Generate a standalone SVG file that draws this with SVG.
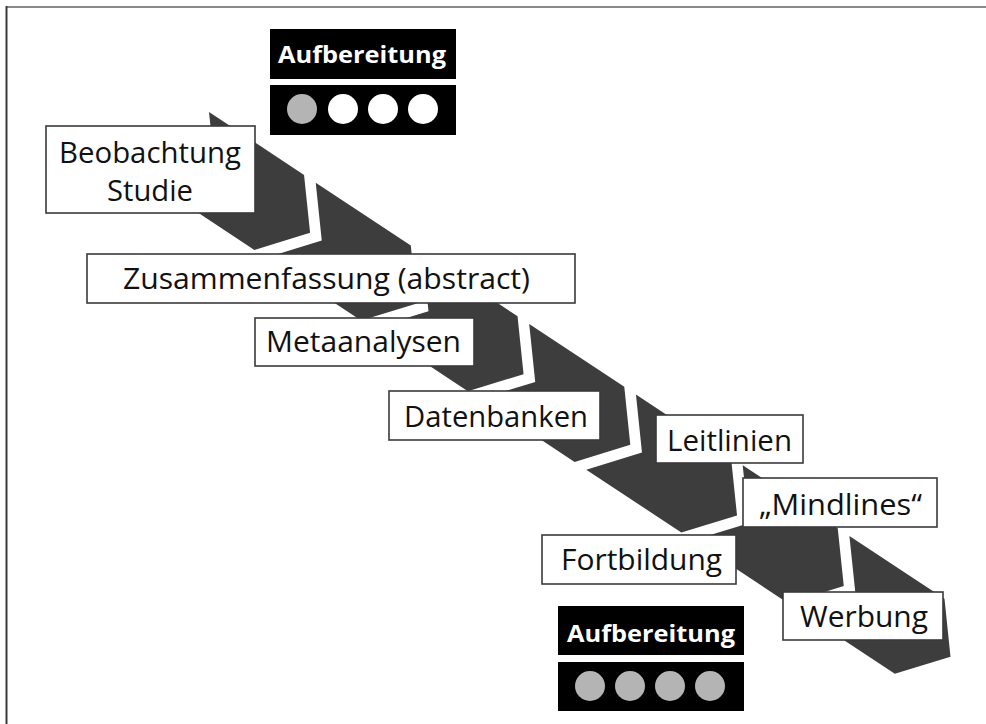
<svg xmlns="http://www.w3.org/2000/svg" xmlns:xlink="http://www.w3.org/1999/xlink" width="986" height="724" viewBox="0 0 986 724">
<defs>
<style>
.box{fill:#ffffff;stroke:#3a3a3a;stroke-width:1.6}
.lbl{font-family:"Open Sans","Noto Sans","Liberation Sans",sans-serif;font-size:29px;fill:#111111}
.hd{fill:#000000}
.hdt{font-family:"Open Sans","Noto Sans","Liberation Sans",sans-serif;font-size:24px;font-weight:bold;fill:#ffffff}
.chev{fill:#3d3d3d}
</style>
<polygon id="chev" class="chev" points="0,0 114,0 151,45 114,90 0,90 37,45"/>
</defs>
<rect x="0" y="0" width="986" height="724" fill="#ffffff"/>
<line x1="6" y1="7" x2="986" y2="7" stroke="#8a8a8a" stroke-width="2"/>
<line x1="6.5" y1="6" x2="6.5" y2="724" stroke="#3a3a3a" stroke-width="2"/>

<g id="band" transform="translate(209,112) rotate(33.5)">
<use xlink:href="#chev" x="0"/>
<use xlink:href="#chev" x="128"/>
<use xlink:href="#chev" x="256"/>
<use xlink:href="#chev" x="384"/>
<use xlink:href="#chev" x="512"/>
<use xlink:href="#chev" x="640"/>
<use xlink:href="#chev" x="768"/>
</g>

<g id="connectors"></g>

<g id="aufbereitung-top">
<rect class="hd" x="270" y="29" width="186" height="50"/>
<text class="hdt" x="278" y="63" textLength="168" lengthAdjust="spacingAndGlyphs">Aufbereitung</text>
<rect class="hd" x="270" y="85" width="186" height="50"/>
<circle cx="302" cy="109" r="15" fill="#b4b4b4"/>
<circle cx="343" cy="109" r="15" fill="#ffffff"/>
<circle cx="383" cy="109" r="15" fill="#ffffff"/>
<circle cx="423" cy="109" r="15" fill="#ffffff"/>
</g>

<g id="beobachtung">
<rect class="box" x="46" y="126" width="209" height="87"/>
<text class="lbl" x="59" y="163" textLength="182" lengthAdjust="spacingAndGlyphs">Beobachtung</text>
<text class="lbl" x="107" y="201" textLength="86" lengthAdjust="spacingAndGlyphs">Studie</text>
</g>

<g id="zusammenfassung">
<rect class="box" x="87" y="254" width="488" height="49"/>
<text class="lbl" x="123" y="289" textLength="407" lengthAdjust="spacingAndGlyphs">Zusammenfassung (abstract)</text>
</g>

<g id="metaanalysen">
<rect class="box" x="255" y="318" width="219" height="48"/>
<text class="lbl" x="266" y="352" textLength="195" lengthAdjust="spacingAndGlyphs">Metaanalysen</text>
</g>

<g id="datenbanken">
<rect class="box" x="389" y="391" width="211" height="49"/>
<text class="lbl" x="404" y="427" textLength="184" lengthAdjust="spacingAndGlyphs">Datenbanken</text>
</g>

<g id="leitlinien">
<rect class="box" x="656" y="415" width="147" height="48"/>
<text class="lbl" x="667" y="451" textLength="125" lengthAdjust="spacingAndGlyphs">Leitlinien</text>
</g>

<g id="mindlines">
<rect class="box" x="743" y="478" width="194" height="49"/>
<text class="lbl" x="759" y="515" textLength="163" lengthAdjust="spacingAndGlyphs">„Mindlines“</text>
</g>

<g id="fortbildung">
<rect class="box" x="542" y="535" width="194" height="49"/>
<text class="lbl" x="561" y="570" textLength="161" lengthAdjust="spacingAndGlyphs">Fortbildung</text>
</g>

<g id="werbung">
<rect class="box" x="783" y="592" width="160" height="48"/>
<text class="lbl" x="800" y="627" textLength="128" lengthAdjust="spacingAndGlyphs">Werbung</text>
</g>

<g id="aufbereitung-bottom">
<rect class="hd" x="558" y="606" width="186" height="49"/>
<text class="hdt" x="567" y="642" textLength="168" lengthAdjust="spacingAndGlyphs">Aufbereitung</text>
<rect class="hd" x="558" y="662" width="186" height="49"/>
<circle cx="590" cy="686" r="15" fill="#b4b4b4"/>
<circle cx="630" cy="686" r="15" fill="#b4b4b4"/>
<circle cx="670" cy="686" r="15" fill="#b4b4b4"/>
<circle cx="710" cy="686" r="15" fill="#b4b4b4"/>
</g>
</svg>
